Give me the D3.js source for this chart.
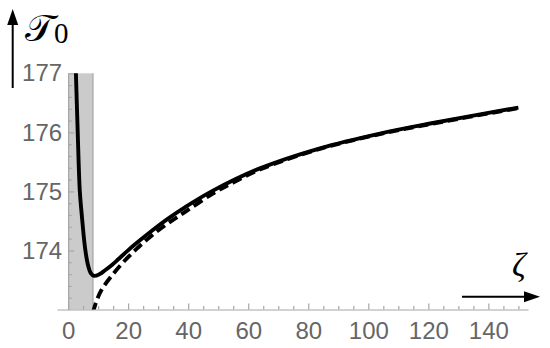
<!DOCTYPE html>
<html>
<head>
  <meta charset="utf-8">
  <title>T0 vs zeta</title>
  <script src="https://d3js.org/d3.v7.min.js"></script>
  <style>
    body { margin: 0; background: #fff; }
    svg { display: block; }
    .axis path, .axis line { stroke: #a6a6a6; stroke-width: 1.2; }
    .axis text { font-family: "Liberation Sans", Arial, sans-serif; font-size: 24px; fill: #666; }
  </style>
</head>
<body>
  <div id="chart"></div>
  <script>
    // data
    const solidZeta = [2.6, 3.2, 3.9, 4.5, 5.6, 6.5, 7.6, 8.6, 10.5, 12.2, 14.5, 16.7, 19.5, 22.2, 27.8, 33.3, 38.9, 47.8, 63.9, 83.9, 103.9, 120.6, 150];
    const solidT    = [177.0, 176.0, 175.0, 174.63, 174.06, 173.78, 173.61, 173.57, 173.60, 173.66, 173.75, 173.85, 173.98, 174.10, 174.33, 174.54, 174.73, 175.00, 175.39, 175.73, 175.98, 176.15, 176.42];
    const dashZeta  = [8.3, 9.3, 11.1, 14.5, 18.9, 23.3, 27.8, 33.3, 38.9, 47.8, 55, 63.9, 83.9, 103.9, 120.6, 150];
    const dashT     = [172.95, 173.12, 173.33, 173.57, 173.83, 174.05, 174.25, 174.46, 174.65, 174.95, 175.15, 175.37, 175.72, 175.97, 176.14, 176.41];
    const bandZeta  = [0, 8.3];
    const xMajor = [0, 20, 40, 60, 80, 100, 120, 140];
    const yMajor = [174, 175, 176, 177];

    const width = 550, height = 348;
    const svg = d3.select('#chart').append('svg')
      .attr('width', width).attr('height', height);

    const x = d3.scaleLinear().domain([-3.7, 153.2]).range([57, 528]);
    const y = d3.scaleLinear().domain([173, 177]).range([309.5, 73.3]);

    // shaded region
    svg.append('rect')
      .attr('x', x(bandZeta[0]))
      .attr('y', y(177))
      .attr('width', x(bandZeta[1]) - x(bandZeta[0]))
      .attr('height', y(173) - y(177))
      .attr('fill', '#cbcbcb');
    svg.append('line')
      .attr('x1', x(bandZeta[1])).attr('x2', x(bandZeta[1]))
      .attr('y1', y(177)).attr('y2', y(173))
      .attr('stroke', '#9a9a9a').attr('stroke-width', 1);

    // minor ticks
    const xMinor = d3.range(5, 151, 5).filter(v => v % 20 !== 0);
    const yMinor = d3.range(173.2, 177, 0.2).filter(v => Math.abs(v - Math.round(v)) > 0.01);

    svg.append('g').attr('class', 'axis')
      .attr('transform', `translate(0,${y(173)})`)
      .call(d3.axisBottom(x).tickValues(xMinor).tickSize(-3.5).tickSizeOuter(0).tickFormat(''));
    svg.append('g').attr('class', 'axis')
      .attr('transform', `translate(0,${y(173)})`)
      .call(d3.axisBottom(x).tickValues(xMajor).tickSize(-6).tickSizeOuter(0).tickPadding(12))
      .call(g => g.select('.domain').remove());

    svg.append('g').attr('class', 'axis')
      .attr('transform', `translate(${x(0)},0)`)
      .call(d3.axisLeft(y).tickValues(yMinor).tickSize(-3.5).tickSizeOuter(0).tickFormat(''));
    svg.append('g').attr('class', 'axis')
      .attr('transform', `translate(${x(0)},0)`)
      .call(d3.axisLeft(y).tickValues(yMajor).tickSize(-6).tickSizeOuter(0).tickPadding(6).tickFormat(d3.format('d')))
      .call(g => g.select('.domain').remove());

    // curves
    svg.append('clipPath').attr('id', 'plot-clip')
      .append('rect')
      .attr('x', x(0)).attr('y', y(177) - 2)
      .attr('width', x(153.2) - x(0)).attr('height', y(173) - y(177) + 2);

    const line = d3.line()
      .x(d => x(d[0]))
      .y(d => y(d[1]))
      .curve(d3.curveCatmullRom.alpha(0.5));

    const solid = solidZeta.map((z, i) => [z, solidT[i]]);
    const dashed = dashZeta.map((z, i) => [z, dashT[i]]);

    svg.append('path')
      .datum(solid)
      .attr('d', line)
      .attr('clip-path', 'url(#plot-clip)')
      .attr('fill', 'none')
      .attr('stroke', '#000')
      .attr('stroke-width', 3.9);

    svg.append('path')
      .datum(dashed)
      .attr('d', line)
      .attr('clip-path', 'url(#plot-clip)')
      .attr('fill', 'none')
      .attr('stroke', '#000')
      .attr('stroke-width', 3.9)
      .attr('stroke-dasharray', '10,5');

    // axis arrows
    svg.append('line')
      .attr('x1', 12.7).attr('x2', 12.7).attr('y1', 88).attr('y2', 20)
      .attr('stroke', '#000').attr('stroke-width', 2);
    svg.append('path')
      .attr('d', 'M12.7,9 L18.2,25 L7.2,25 Z')
      .attr('fill', '#000');

    svg.append('line')
      .attr('x1', 462).attr('x2', 530).attr('y1', 296.7).attr('y2', 296.7)
      .attr('stroke', '#000').attr('stroke-width', 2);
    svg.append('path')
      .attr('d', 'M540,296.7 L524,291.2 L524,302.2 Z')
      .attr('fill', '#000');

    // axis labels
    const tLabel = svg.append('text')
      .attr('x', 25).attr('y', 41)
      .attr('font-family', '"DejaVu Serif", serif')
      .attr('font-size', 38)
      .attr('fill', '#000');
    tLabel.append('tspan').text('\u{1D4AF}');
    tLabel.append('tspan')
      .attr('font-family', '"Liberation Serif", serif')
      .attr('font-size', 29)
      .attr('dy', 2)
      .text('0');

    svg.append('text')
      .attr('x', 512).attr('y', 276)
      .attr('font-family', '"Liberation Serif", serif')
      .attr('font-style', 'italic')
      .attr('font-size', 34)
      .attr('fill', '#000')
      .text('ζ');
  </script>
</body>
</html>
